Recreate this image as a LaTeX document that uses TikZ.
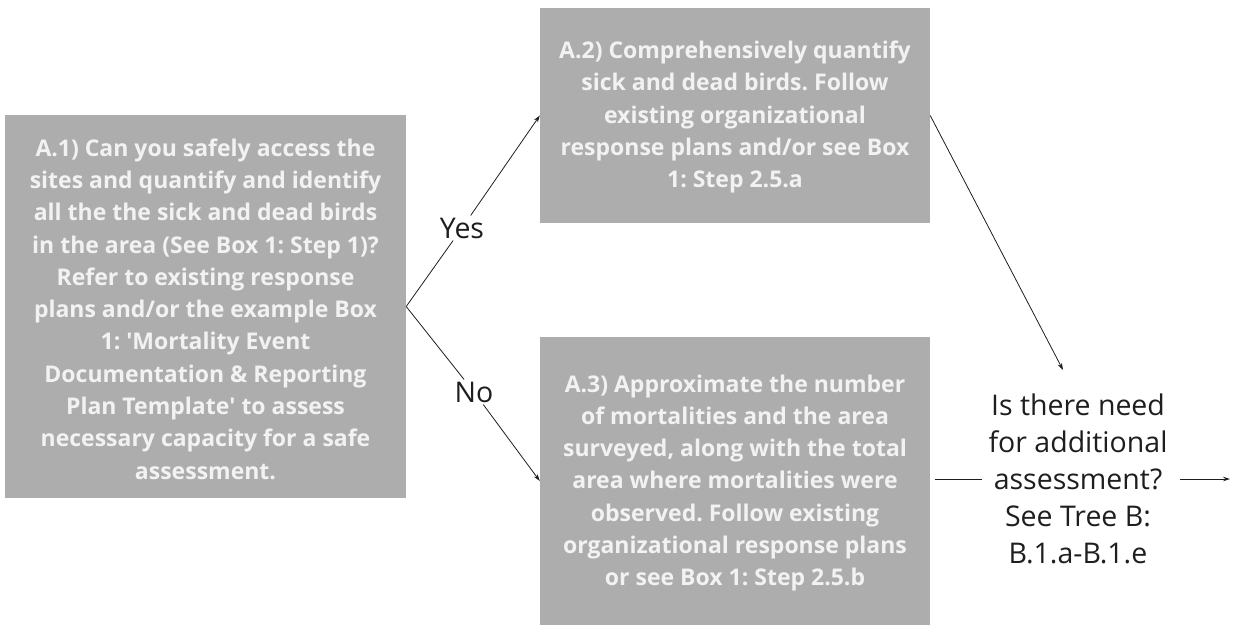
\documentclass[tikz,border=0pt]{standalone}
\usepackage{fontspec}
\setmainfont{Open Sans}
\usetikzlibrary{arrows.meta}
\definecolor{boxgray}{HTML}{ADADAD}
\definecolor{boxtext}{HTML}{F2F2F2}
\definecolor{ink}{HTML}{1E1E1E}
\frenchspacing
\begin{document}
\begin{tikzpicture}[x=1pt,y=1pt,
  gbox/.style={fill=boxgray, draw=none, align=center, text=boxtext,
    font=\frenchspacing\bfseries\fontsize{23}{32.3}\selectfont, inner sep=0pt},
  plain/.style={text=ink, align=center, font=\fontsize{28.5}{37}\selectfont},
  conn/.style={draw=ink, line width=0.8pt},
  arr/.style={conn, -{Stealth[length=7pt,width=4.5pt]}}]
\useasboundingbox (0,0) rectangle (1233,-627);
\node[gbox, minimum width=401pt, minimum height=383pt] (A1) at (205.5,-306.5) {};
\node[gbox, minimum width=390pt, minimum height=215pt] (A2) at (735,-115.5) {};
\node[gbox, minimum width=390pt, minimum height=288pt] (A3) at (735,-481) {};
\node[gbox, fill=none] (t1) at (205.5,-309) {A.1) Can you safely access the\\sites and quantify and identify\\all the the sick and dead birds\\in the area (See Box 1: Step 1)?\\Refer to existing response\\plans and/or the example Box\\1: \textquotesingle Mortality Event\\Documentation \& Reporting\\Plan Template\textquotesingle\ to assess\\necessary capacity for a safe\\assessment.};
\node[gbox, fill=none] (t2) at (735,-117) {A.2) Comprehensively quantify\\sick and dead birds. Follow\\existing organizational\\response plans and/or see Box\\1: Step 2.5.a};
\node[gbox, fill=none] (t3) at (735,-483) {A.3) Approximate the number\\of mortalities and the area\\surveyed, along with the total\\area where mortalities were\\observed. Follow existing\\organizational response plans\\or see Box 1: Step 2.5.b};
\node[plain, inner sep=6pt] (dec) at (1078,-479) {Is there need\\for additional\\assessment?\\See Tree B:\\B.1.a-B.1.e};
\node[plain, inner sep=2pt] (yes) at (462,-228) {Yes};
\node[plain, inner sep=2pt] (no) at (474,-392) {No};
\coordinate (out) at (1230,-479);
\coordinate (hit) at (1063,-370);
\draw[conn] (A1.east) -- (yes);
\draw[arr] (yes) -- (A2.west);
\draw[conn] (A1.east) -- (no);
\draw[arr] (no) -- (A3.west);
\draw[arr] (A2.east) -- (hit);
\draw[conn, shorten <=5pt] (A3.east |- dec.west) -- (dec.west);
\draw[arr, shorten <=6pt] (dec.east) -- (out);
\end{tikzpicture}
\end{document}
